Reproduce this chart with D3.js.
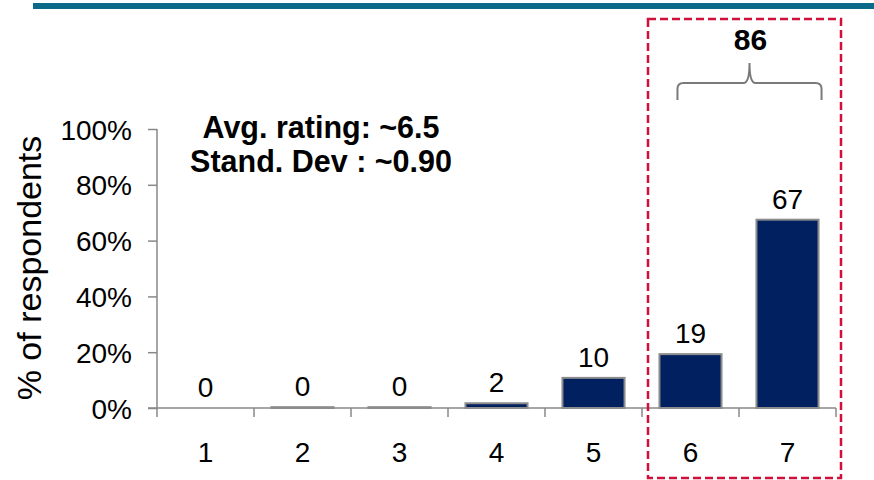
<!DOCTYPE html>
<html>
<head>
<meta charset="utf-8">
<script src="https://cdn.jsdelivr.net/npm/d3@7"></script>
<style>
  html, body { margin: 0; padding: 0; background: #fff; }
  svg { display: block; font-family: "Liberation Sans", Arial, sans-serif; }
</style>
</head>
<body>
<svg id="chart" width="874" height="480"></svg>
<script>
const categories = ["1", "2", "3", "4", "5", "6", "7"];
const values = [0, 0.3, 0.3, 1.7, 10.8, 19.3, 67.5];
const valueLabels = ["0", "0", "0", "2", "10", "19", "67"];
const yTicks = [0, 20, 40, 60, 80, 100];
const yTitle = "% of respondents";
const noteLines = ["Avg. rating: ~6.5", "Stand. Dev : ~0.90"];
const topBoxTotal = "86";
const highlighted = ["6", "7"];

const svg = d3.select("#chart");
const axisColor = "#888888";

// top banner
svg.append("rect").attr("x", 33).attr("y", 3).attr("width", 841).attr("height", 6).attr("fill", "#0b6a8a");

const x = d3.scaleBand().domain(categories).range([157, 836]).paddingInner(0.36).paddingOuter(0.18);
const y = d3.scaleLinear().domain([0, 100]).range([408, 129]);

// Y axis
const yAxis = d3.axisLeft(y).tickValues(yTicks).tickFormat(d => d + "%").tickSize(9).tickPadding(16);
const gy = svg.append("g").attr("transform", "translate(157,0)").call(yAxis);
gy.select(".domain").attr("stroke", axisColor).attr("stroke-width", 1.5).attr("d", "M0," + y(100) + "V" + y(0));
gy.selectAll(".tick line").attr("stroke", axisColor).attr("stroke-width", 1.5);
gy.selectAll(".tick text").attr("font-size", 28).attr("fill", "#000").attr("dy", "0.36em");

// X axis line (extends left to the 0% tick)
svg.append("line").attr("x1", 148).attr("x2", 836).attr("y1", y(0)).attr("y2", y(0))
  .attr("stroke", axisColor).attr("stroke-width", 1.5);
// X ticks at category boundaries
const bounds = categories.map(c => x(c) - x.step() * x.paddingInner() / 2);
bounds.push(836);
svg.selectAll(".xtick").data(bounds).join("line").attr("class", "xtick")
  .attr("x1", d => d).attr("x2", d => d).attr("y1", y(0)).attr("y2", y(0) + 9)
  .attr("stroke", axisColor).attr("stroke-width", 1.5);
svg.selectAll(".xlabel").data(categories).join("text").attr("class", "xlabel")
  .attr("x", d => x(d) + x.bandwidth() / 2).attr("y", 462)
  .attr("text-anchor", "middle").attr("font-size", 28).attr("fill", "#000").text(d => d);

// bars
svg.selectAll(".bar").data(values.map((v, i) => ({ c: categories[i], v }))).join("rect").attr("class", "bar")
  .filter(d => d.v > 0)
  .attr("x", d => x(d.c)).attr("width", x.bandwidth())
  .attr("y", d => y(d.v)).attr("height", d => y(0) - y(d.v))
  .attr("fill", "#002060").attr("stroke", "#8c8c8c").attr("stroke-width", 2);

// value labels
svg.selectAll(".vlabel").data(values.map((v, i) => ({ c: categories[i], v, l: valueLabels[i] }))).join("text").attr("class", "vlabel")
  .attr("x", d => x(d.c) + x.bandwidth() / 2).attr("y", d => y(d.v) - 11)
  .attr("text-anchor", "middle").attr("font-size", 28).attr("fill", "#000").text(d => d.l);

// y title
svg.append("text").attr("transform", "translate(41,268) rotate(-90)")
  .attr("text-anchor", "middle").attr("font-size", 34).attr("fill", "#000").text(yTitle);

// note
svg.selectAll(".note").data(noteLines).join("text").attr("class", "note")
  .attr("x", 321).attr("y", (d, i) => 138 + i * 34)
  .attr("text-anchor", "middle").attr("font-size", 30.5).attr("font-weight", "bold").attr("fill", "#000").text(d => d);

// highlight box
const hx0 = x(highlighted[0]) - x.step() * x.paddingInner() / 2 + 6;
const hx1 = x(highlighted[1]) + x.bandwidth() + x.step() * x.paddingInner() / 2 + 5;
svg.append("rect").attr("x", hx0).attr("y", 19).attr("width", hx1 - hx0).attr("height", 459)
  .attr("fill", "none").attr("stroke", "#d0103a").attr("stroke-width", 2.5).attr("stroke-dasharray", "8,4");

// brace
const bl = x(highlighted[0]) + 18, br = x(highlighted[1]) + x.bandwidth() + 3;
const bm = (bl + br) / 2, by = 83, r = 6;
svg.append("path")
  .attr("d", `M${bl},100 V${by + r} Q${bl},${by} ${bl + r},${by} H${bm - r} Q${bm},${by} ${bm},${63} Q${bm},${by} ${bm + r},${by} H${br - r} Q${br},${by} ${br},${by + r} V100`)
  .attr("fill", "none").attr("stroke", "#7a7a7a").attr("stroke-width", 2);

svg.append("text").attr("x", bm + 1).attr("y", 50).attr("text-anchor", "middle")
  .attr("font-size", 30).attr("font-weight", "bold").attr("fill", "#000").text(topBoxTotal);
</script>
</body>
</html>
